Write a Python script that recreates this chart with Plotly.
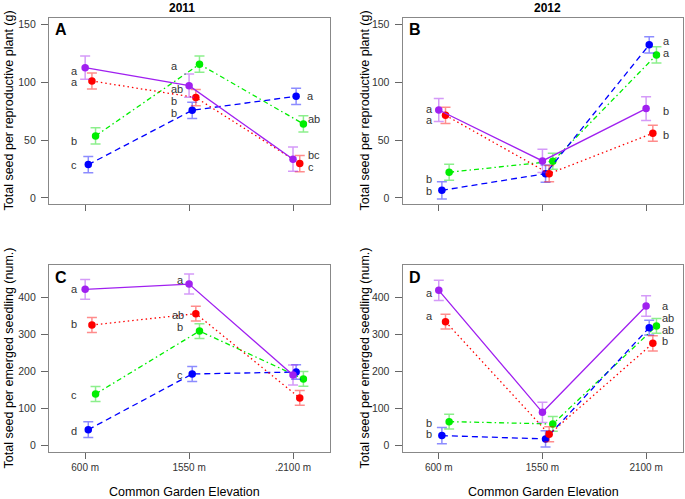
import plotly.graph_objects as go

# ---------------- data ----------------
categories = ["600 m", "1550 m", "2100 m"]
tick_text_C = ["600 m", "1550 m", ".2100 m"]
tick_text_D = ["600 m", "1550 m", "2100 m"]
series_names = ["purple", "blue", "red", "green"]

# Panel A: total seed per reproductive plant (g), 2011
A_purple = [112.5, 97.0, 33.5];  A_purple_err = [10.0, 10.0, 10.5]
A_red = [101.0, 86.7, 29.7];     A_red_err = [7.0, 7.0, 7.0]
A_green = [53.6, 115.5, 63.9];   A_green_err = [7.0, 7.0, 7.0]
A_blue = [28.8, 75.7, 87.8];     A_blue_err = [7.0, 7.0, 7.0]
A_letters_600 = ["a", "a", "b", "c"]
A_letters_1550 = ["a", "ab", "b", "b"]
A_letters_2100 = ["a", "ab", "bc", "c"]

# Panel B: total seed per reproductive plant (g), 2012
B_purple = [76.0, 32.0, 77.2];   B_purple_err = [10.0, 10.0, 10.3]
B_red = [71.4, 21.0, 55.9];      B_red_err = [7.0, 7.0, 7.0]
B_green = [22.2, 31.7, 123.5];   B_green_err = [7.0, 7.0, 7.0]
B_blue = [6.6, 21.0, 132.2];     B_blue_err = [7.5, 7.5, 7.0]
B_letters_600 = ["a", "a", "b", "b"]
B_letters_2100 = ["a", "a", "b", "b"]

# Panel C: total seed per emerged seedling (num.), 2011
C_purple = [422.6, 437.0, 190.5]; C_purple_err = [27.0, 27.0, 27.0]
C_red = [326.0, 356.7, 128.2];    C_red_err = [20.0, 20.0, 20.0]
C_green = [139.0, 309.7, 179.7];  C_green_err = [20.0, 20.0, 20.0]
C_blue = [42.4, 193.2, 198.6];    C_blue_err = [21.5, 20.0, 19.5]
C_letters_600 = ["a", "b", "c", "d"]
C_letters_1550 = ["a", "ab", "b", "c"]

# Panel D: total seed per emerged seedling (num.), 2012
D_purple = [419.9, 89.4, 377.4]; D_purple_err = [27.5, 27.5, 28.0]
D_red = [335.0, 29.8, 276.3];    D_red_err = [20.0, 20.5, 20.5]
D_green = [64.1, 57.8, 323.3];   D_green_err = [20.0, 20.0, 20.0]
D_blue = [26.2, 17.2, 318.7];    D_blue_err = [22.0, 22.0, 20.0]
D_letters_600 = ["a", "a", "b", "b"]
D_letters_2100 = ["a", "ab", "ab", "b"]

# ---------------- styles ----------------
FONT = "Liberation Sans, Arial, Helvetica, sans-serif"
style = {
    "purple": dict(color="#A020F0", err="rgba(160,32,240,0.45)", dash="solid", off=0.0),
    "blue":   dict(color="#0000FF", err="rgba(0,0,255,0.45)", dash="6px,4px", off=0.03),
    "red":    dict(color="#FF0000", err="rgba(255,0,0,0.45)", dash="1.5px,3px", off=0.065),
    "green":  dict(color="#00EE00", err="rgba(0,220,0,0.45)", dash="5px,3px,1.5px,3px", off=0.10),
}

panels = {
    "A": dict(x="x", y="y", data={"purple": (A_purple, A_purple_err), "red": (A_red, A_red_err),
                                  "green": (A_green, A_green_err), "blue": (A_blue, A_blue_err)}),
    "B": dict(x="x2", y="y2", data={"purple": (B_purple, B_purple_err), "red": (B_red, B_red_err),
                                    "green": (B_green, B_green_err), "blue": (B_blue, B_blue_err)}),
    "C": dict(x="x3", y="y3", data={"purple": (C_purple, C_purple_err), "red": (C_red, C_red_err),
                                    "green": (C_green, C_green_err), "blue": (C_blue, C_blue_err)}),
    "D": dict(x="x4", y="y4", data={"purple": (D_purple, D_purple_err), "red": (D_red, D_red_err),
                                    "green": (D_green, D_green_err), "blue": (D_blue, D_blue_err)}),
}

fig = go.Figure()
for pname, p in panels.items():
    for s in ["green", "blue", "red", "purple"]:
        vals, errs = p["data"][s]
        st = style[s]
        fig.add_trace(go.Scatter(
            x=[i + 1 + st["off"] for i in range(len(categories))], y=vals,
            xaxis=p["x"], yaxis=p["y"], mode="lines+markers", name=s, showlegend=False,
            line=dict(color=st["color"], width=1.3, dash=st["dash"]),
            marker=dict(color=st["color"], size=7.5),
            error_y=dict(type="data", array=errs, visible=True, color=st["err"],
                         thickness=1.5, width=5),
            cliponaxis=False,
        ))

W, H = 685, 499
xA = [49 / W, 330 / W]
xB = [402.7 / W, 683 / W]
yTop = [1 - 204 / H, 1 - 18 / H]
yBot = [1 - 452 / H, 1 - 265 / H]
xr = [0.652, 3.356]
rAB = [-5.2, 155.4]
rCD = [-18.2, 488.6]

def xax(domain, anchor, labels, show):
    return dict(domain=domain, anchor=anchor, range=xr, tickvals=[1, 2, 3], ticktext=labels,
                showticklabels=show, ticks="outside", ticklen=6, tickcolor="#666", tickwidth=1,
                showline=True, mirror=True, linecolor="#888", linewidth=1.3,
                showgrid=False, zeroline=False,
                tickfont=dict(family=FONT, size=10, color="#333"), fixedrange=True)

def yax(domain, anchor, rng, tv):
    return dict(domain=domain, anchor=anchor, range=rng, tickvals=tv,
                ticks="outside", ticklen=7, tickcolor="#666", tickwidth=1,
                showline=True, mirror=True, linecolor="#888", linewidth=1.3,
                showgrid=False, zeroline=False, ticklabelstandoff=3,
                tickfont=dict(family=FONT, size=10.5, color="#333"), fixedrange=True)

fig.update_layout(
    width=W, height=H, margin=dict(l=0, r=0, t=0, b=0),
    plot_bgcolor="white", paper_bgcolor="white",
    xaxis=xax(xA, "y", categories, False),
    yaxis=yax(yTop, "x", rAB, [0, 50, 100, 150]),
    xaxis2=xax(xB, "y2", categories, False),
    yaxis2=yax(yTop, "x2", rAB, [0, 50, 100, 150]),
    xaxis3=xax(xA, "y3", tick_text_C, True),
    yaxis3=yax(yBot, "x3", rCD, [0, 100, 200, 300, 400]),
    xaxis4=xax(xB, "y4", tick_text_D, True),
    yaxis4=yax(yBot, "x4", rCD, [0, 100, 200, 300, 400]),
)

ann = []
def letter(xref, yref, x, y, t):
    ann.append(dict(x=x, y=y, xref=xref, yref=yref, text=t, showarrow=False,
                    font=dict(family=FONT, size=11, color="#333"), xanchor="center", yanchor="middle"))

# letter positions (annotation placement, near the corresponding means)
for t, x, y in zip(A_letters_600, [0.894] * 4, [110, 100, 49, 28.8]):
    letter("x", "y", x, y, t)
for t, x, y in zip(A_letters_1550, [1.856, 1.888, 1.856, 1.856], [114, 93.9, 84, 73]):
    letter("x", "y", x, y, t)
for t, x, y in zip(A_letters_2100, [3.17, 3.2, 3.2, 3.17], [87.8, 68.2, 37.4, 27]):
    letter("x", "y", x, y, t)
for t, x, y in zip(B_letters_600, [0.906] * 4, [76.9, 67.4, 16.4, 6.3]):
    letter("x2", "y2", x, y, t)
for t, x, y in zip(B_letters_2100, [3.193] * 4, [135.6, 125.5, 74.9, 54.4]):
    letter("x2", "y2", x, y, t)
for t, x, y in zip(C_letters_600, [0.894] * 4, [422.6, 327.8, 135.4, 39.7]):
    letter("x3", "y3", x, y, t)
for t, x, y in zip(C_letters_1550, [1.913, 1.897, 1.913, 1.913], [447.9, 352.1, 319.6, 191.4]):
    letter("x3", "y3", x, y, t)
for t, x, y in zip(D_letters_600, [0.906] * 4, [413.5, 349.4, 61.4, 30.7]):
    letter("x4", "y4", x, y, t)
for t, x, y in zip(D_letters_2100, [3.184, 3.216, 3.216, 3.184], [378.3, 344.9, 312.4, 281.7]):
    letter("x4", "y4", x, y, t)

# panel letters
for lab, xp, yp in [("A", 53 / W, 1 - 30 / H), ("B", 407 / W, 1 - 30 / H),
                    ("C", 53 / W, 1 - 277 / H), ("D", 407 / W, 1 - 277 / H)]:
    ann.append(dict(x=xp, y=yp, xref="paper", yref="paper", text="<b>%s</b>" % lab, showarrow=False,
                    font=dict(family=FONT, size=16, color="black"), xanchor="left", yanchor="middle"))

# column titles
for t, xp in [("2011", 182 / W), ("2012", 547 / W)]:
    ann.append(dict(x=xp, y=1 - 8 / H, xref="paper", yref="paper", text="<b>%s</b>" % t, showarrow=False,
                    font=dict(family=FONT, size=12, color="black"), xanchor="center", yanchor="middle"))

# axis titles
for t, xp, yp in [("Total seed per reproductive plant (g)", 8 / W, 1 - 110.5 / H),
                  ("Total seed per reproductive plant (g)", 364 / W, 1 - 110.5 / H),
                  ("Total seed per emerged seedling (num.)", 8 / W, 1 - 358.5 / H),
                  ("Total seed per emerged seedling (num.)", 364 / W, 1 - 358.5 / H)]:
    ann.append(dict(x=xp, y=yp, xref="paper", yref="paper", text=t, showarrow=False, textangle=-90,
                    font=dict(family=FONT, size=12.5, color="black"), xanchor="center", yanchor="middle"))
for xp in [184 / W, 543 / W]:
    ann.append(dict(x=xp, y=1 - 492 / H, xref="paper", yref="paper", text="Common Garden Elevation",
                    showarrow=False, font=dict(family=FONT, size=12.5, color="black"),
                    xanchor="center", yanchor="middle"))

fig.update_layout(annotations=ann)
fig.write_html(
    "out.html",
    config={"displayModeBar": False},
    post_script="document.body.style.margin='0';document.body.style.overflow='hidden';",
)
